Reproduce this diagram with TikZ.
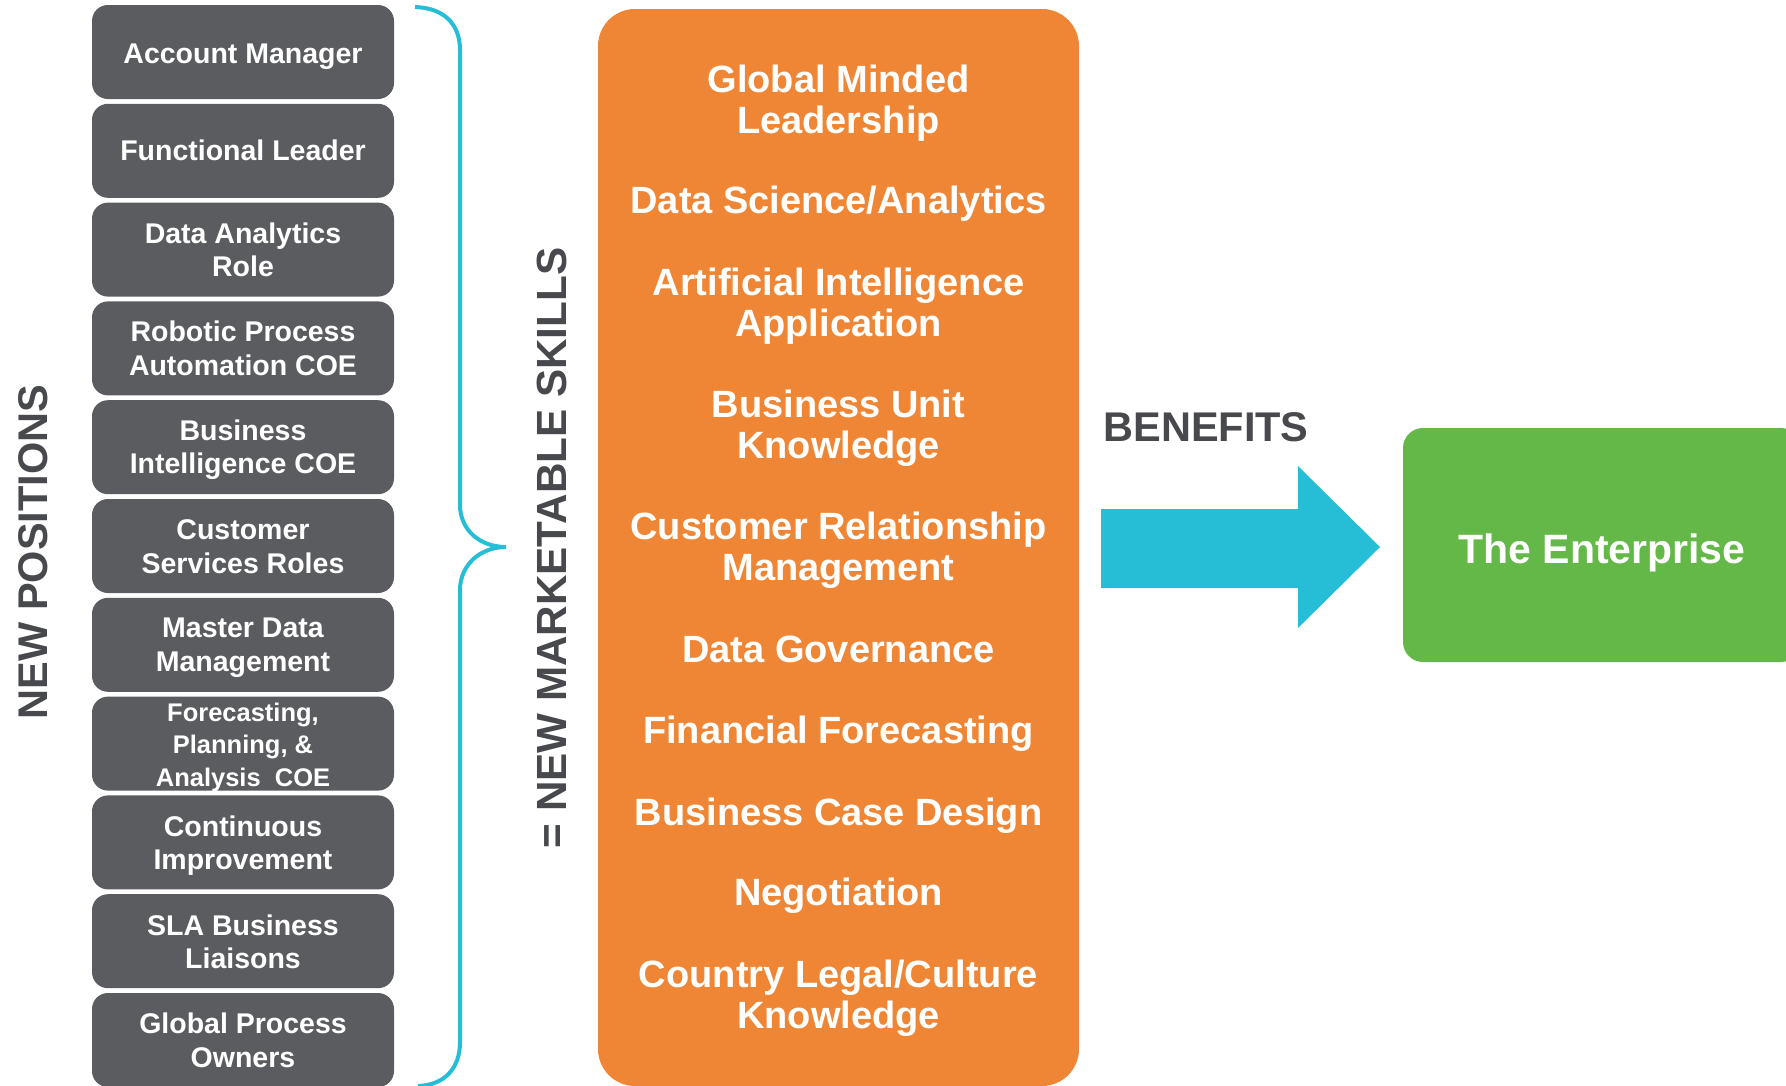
\documentclass[tikz,border=0pt]{standalone}
\usepackage{fontspec}
\setmainfont{Liberation Sans}
\definecolor{posgrey}{RGB}{91,92,96}
\definecolor{labelgrey}{RGB}{72,73,77}
\definecolor{skillorange}{RGB}{239,134,54}
\definecolor{bracecyan}{RGB}{38,190,214}
\definecolor{entgreen}{RGB}{99,184,72}
\tikzset{
  posbox/.style={fill=posgrey, rounded corners=16pt, minimum width=302pt, minimum height=94pt,
    inner sep=0pt},
  postext/.style={text=white, font=\bfseries\fontsize{28.5}{33.5}\selectfont, align=center, inner sep=0pt},
  skilltext/.style={text=white, font=\bfseries\fontsize{38}{41}\selectfont, align=center, inner sep=0pt},
  sidelabel/.style={text=labelgrey, font=\bfseries\fontsize{41.5}{46}\selectfont, inner sep=0pt}
}
\begin{document}
\begin{tikzpicture}[x=1pt,y=-1pt]
\useasboundingbox (0,0) rectangle (1786,1085);
\clip (0,0) rectangle (1786,1085);
% positions
\node[posbox] (p1) at (243,52) {};
\node[posbox] (p2) at (243,150.8) {};
\node[posbox] (p3) at (243,249.6) {};
\node[posbox] (p4) at (243,348.4) {};
\node[posbox] (p5) at (243,447.2) {};
\node[posbox] (p6) at (243,546) {};
\node[posbox] (p7) at (243,644.8) {};
\node[posbox] (p8) at (243,743.6) {};
\node[posbox] (p9) at (243,842.4) {};
\node[posbox] (p10) at (243,941.2) {};
\node[posbox] (p11) at (243,1040) {};
\node[postext] (t1) at (243,56.5) {Account Manager};
\node[postext] (t2) at (243,150.8) {Functional Leader};
\node[postext] (t3) at (243,249.6) {Data Analytics\\Role};
\node[postext] (t4) at (243,348.4) {Robotic Process\\Automation COE};
\node[postext] (t5) at (243,449.5) {Business\\Intelligence COE};
\node[postext] (t6) at (243,546.5) {Customer\\Services Roles};
\node[postext] (t7) at (243,647.8) {Master Data\\Management};
\node[postext, font=\bfseries\fontsize{25.5}{32.5}\selectfont] (t8) at (243,747) {Forecasting,\\Planning, \&\\Analysis\ \ COE};
\node[postext] (t9) at (243,845.4) {Continuous\\Improvement};
\node[postext] (t10) at (243,941.8) {SLA Business\\Liaisons};
\node[postext] (t11) at (243,1040.5) {Global Process\\Owners};
% side labels
\node[sidelabel, rotate=90] (newpos) at (33,552) {NEW POSITIONS};
\node[sidelabel, rotate=90, font=\bfseries\fontsize{42.2}{46}\selectfont] (newskills) at (552,548) {= NEW MARKETABLE SKILLS};
% brace
\draw[bracecyan, line width=4pt]
  (415,7) .. controls (445,8) and (460,25) .. (460,50) -- (460,505)
  .. controls (460,530) and (480,547) .. (506,547)
  .. controls (480,547) and (460,565) .. (460,590) -- (460,1042)
  .. controls (460,1068) and (445,1085) .. (418,1086);
% skills box
\node[fill=skillorange, rounded corners=37pt, minimum width=481pt, minimum height=1077pt, inner sep=0pt] (skills) at (838.5,547.5) {};
\node[skilltext] (s1) at (838.5,103.5) {Global Minded\\Leadership};
\node[skilltext] (s2) at (838.5,204) {Data Science/Analytics};
\node[skilltext] (s3) at (838.5,306.5) {Artificial Intelligence\\Application};
\node[skilltext] (s4) at (838.5,428) {Business Unit\\Knowledge};
\node[skilltext] (s5) at (838.5,550.5) {Customer Relationship\\Management};
\node[skilltext] (s6) at (838.5,649) {Data Governance};
\node[skilltext] (s7) at (838.5,734) {Financial Forecasting};
\node[skilltext] (s8) at (838.5,816) {Business Case Design};
\node[skilltext] (s9) at (838.5,896) {Negotiation};
\node[skilltext] (s10) at (838.5,998.5) {Country Legal/Culture\\Knowledge};
% benefits
\node[sidelabel] (benefits) at (1206,427) {BENEFITS};
\fill[bracecyan] (1101,509) -- (1298,509) -- (1298,466) -- (1380,547) -- (1298,628) -- (1298,588) -- (1101,588) -- cycle;
% enterprise
\node[fill=entgreen, rounded corners=20pt, minimum width=398pt, minimum height=234pt, inner sep=0pt] (ent) at (1602,545) {};
\node[text=white, font=\bfseries\fontsize{41}{46}\selectfont, inner sep=0pt] (enttext) at (1602,553) {The Enterprise};
\end{tikzpicture}
\end{document}
